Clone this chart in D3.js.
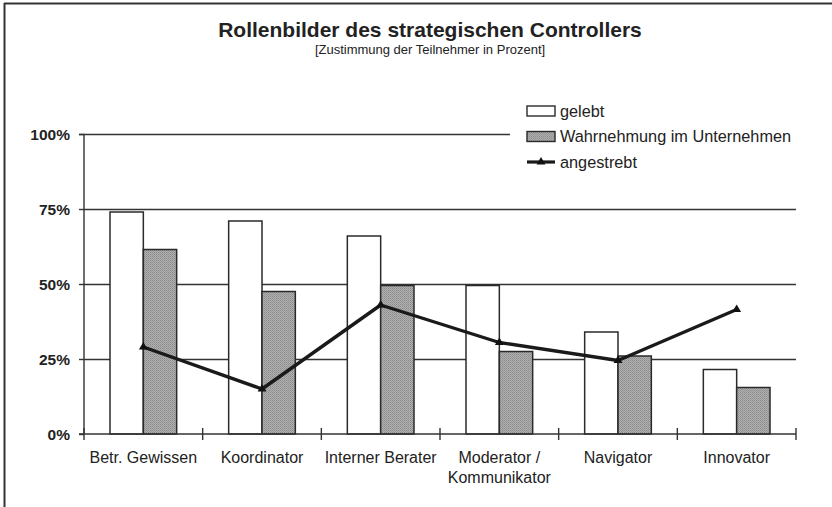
<!DOCTYPE html>
<html>
<head>
<meta charset="utf-8">
<script src="https://cdn.jsdelivr.net/npm/d3@7"></script>
<style>
  body { margin: 0; background: #fff; }
  svg { display: block; font-family: "Liberation Sans", Arial, sans-serif; }
</style>
</head>
<body>
<div id="chart"></div>
<script>
// chart data
const categories = ["Betr. Gewissen", "Koordinator", "Interner Berater", "Moderator /\nKommunikator", "Navigator", "Innovator"];
const gelebt = [74, 71, 66, 49.5, 34, 21.5];
const wahrnehmung = [61.5, 47.5, 49.5, 27.5, 26, 15.5];
const angestrebt = [29, 15, 43, 30.5, 24.5, 41.5];
const yTicks = [0, 25, 50, 75, 100];
const seriesNames = ["gelebt", "Wahrnehmung im Unternehmen", "angestrebt"];

const W = 832, H = 507;
const svg = d3.select("#chart").append("svg")
  .attr("width", W)
  .attr("height", H);

// dotted grey fill like the print
const defs = svg.append("defs");
const pat = defs.append("pattern")
  .attr("id", "grau")
  .attr("width", 2).attr("height", 2)
  .attr("patternUnits", "userSpaceOnUse");
pat.append("rect").attr("width", 2).attr("height", 2).attr("fill", "#b0b0b0");
pat.append("rect").attr("width", 1).attr("height", 1).attr("fill", "#8a8a8a");
pat.append("rect").attr("x", 1).attr("y", 1).attr("width", 1).attr("height", 1).attr("fill", "#989898");

// frame (top and left only)
svg.append("line").attr("x1", 4).attr("x2", W).attr("y1", 3.5).attr("y2", 3.5)
  .attr("stroke", "#333").attr("stroke-width", 2);
svg.append("line").attr("x1", 4.5).attr("x2", 4.5).attr("y1", 3).attr("y2", H)
  .attr("stroke", "#333").attr("stroke-width", 2);

// titles
svg.append("text")
  .attr("x", 430).attr("y", 37)
  .attr("text-anchor", "middle")
  .style("font-size", "21px").style("font-weight", "bold").style("fill", "#222")
  .text("Rollenbilder des strategischen Controllers");
svg.append("text")
  .attr("x", 430).attr("y", 54)
  .attr("text-anchor", "middle")
  .style("font-size", "13px").style("fill", "#222")
  .text("[Zustimmung der Teilnehmer in Prozent]");

// scales
const x = d3.scaleBand().domain(categories).range([84, 796]).paddingInner(0).paddingOuter(0);
const xSub = d3.scaleBand().domain([0, 1]).range([0, x.bandwidth()]).paddingInner(0).paddingOuter(0.78);
const y = d3.scaleLinear().domain([0, 100]).range([434, 134]);

// gridlines
svg.append("g").selectAll("line")
  .data(yTicks.filter(d => d > 0))
  .enter().append("line")
  .attr("x1", 84).attr("x2", 796)
  .attr("y1", d => Math.round(y(d)) + 0.5).attr("y2", d => Math.round(y(d)) + 0.5)
  .attr("stroke", "#333").attr("stroke-width", 1.3);

// bars
const barData = [];
categories.forEach((c, i) => {
  barData.push({ cat: c, s: 0, v: gelebt[i] });
  barData.push({ cat: c, s: 1, v: wahrnehmung[i] });
});
svg.append("g").selectAll("rect")
  .data(barData)
  .enter().append("rect")
  .attr("x", d => x(d.cat) + xSub(d.s))
  .attr("width", xSub.bandwidth())
  .attr("y", d => y(d.v))
  .attr("height", d => y(0) - y(d.v))
  .attr("fill", d => d.s === 0 ? "#fff" : "url(#grau)")
  .attr("stroke", "#2a2a2a").attr("stroke-width", 1.5);

// y axis
const yAxis = d3.axisLeft(y).tickValues(yTicks).tickSize(5).tickPadding(9).tickFormat(d => d + "%");
const gy = svg.append("g").attr("transform", "translate(84,0)").call(yAxis);
gy.select(".domain").attr("stroke", "#333").attr("stroke-width", 1.4).attr("d", "M-5,134.5H0V434H-5");
gy.selectAll(".tick line").attr("stroke", "#333").attr("stroke-width", 1.4);
gy.selectAll(".tick text")
  .style("font-size", "15.5px").style("font-weight", "bold").style("fill", "#222")
  .attr("dy", "0.36em");

// x axis line and crossing ticks at category borders
svg.append("line").attr("x1", 84).attr("x2", 796).attr("y1", y(0)).attr("y2", y(0))
  .attr("stroke", "#333").attr("stroke-width", 1.4);
const borders = categories.map(c => x(c)).concat([x.range()[1]]);
svg.append("g").selectAll("line")
  .data(borders)
  .enter().append("line")
  .attr("x1", d => d).attr("x2", d => d)
  .attr("y1", y(0) - 6).attr("y2", y(0) + 6)
  .attr("stroke", "#333").attr("stroke-width", 1.4);

// category labels
const lbl = svg.append("g").selectAll("text")
  .data(categories)
  .enter().append("text")
  .attr("x", d => x(d) + x.bandwidth() / 2)
  .attr("y", 463)
  .attr("text-anchor", "middle")
  .style("font-size", "16px").style("fill", "#222");
lbl.each(function(d) {
  const parts = d.split("\n");
  d3.select(this).selectAll("tspan")
    .data(parts)
    .enter().append("tspan")
    .attr("x", x(d) + x.bandwidth() / 2)
    .attr("dy", (p, j) => j === 0 ? 0 : 19.5)
    .text(p => p);
});

// line "angestrebt"
const line = d3.line()
  .x((d, i) => x(categories[i]) + x.bandwidth() / 2)
  .y(d => y(d));
svg.append("path")
  .datum(angestrebt)
  .attr("d", line)
  .attr("fill", "none")
  .attr("stroke", "#1a1a1a").attr("stroke-width", 3.4)
  .attr("stroke-linejoin", "round");
const tri = d3.symbol().type(d3.symbolTriangle).size(34);
svg.append("g").selectAll("path")
  .data(angestrebt)
  .enter().append("path")
  .attr("d", tri)
  .attr("transform", (d, i) => "translate(" + (x(categories[i]) + x.bandwidth() / 2) + "," + y(d) + ")")
  .attr("fill", "#111");

// legend, with white box hiding the gridline behind it
const leg = svg.append("g").attr("transform", "translate(527,0)");
leg.append("rect")
  .attr("x", -17).attr("y", 96).attr("width", 295).attr("height", 80)
  .attr("fill", "#fff");
const rowY = [111, 136.5, 162];
seriesNames.forEach((name, i) => {
  const cy = rowY[i];
  if (i < 2) {
    leg.append("rect")
      .attr("x", 0).attr("y", cy - 5).attr("width", 28).attr("height", 10)
      .attr("fill", i === 0 ? "#fff" : "url(#grau)")
      .attr("stroke", "#2a2a2a").attr("stroke-width", 1.4);
  } else {
    leg.append("line").attr("x1", 0).attr("x2", 28).attr("y1", cy).attr("y2", cy)
      .attr("stroke", "#1a1a1a").attr("stroke-width", 3.2);
    leg.append("path").attr("d", tri).attr("transform", "translate(14," + cy + ")").attr("fill", "#111");
  }
  leg.append("text")
    .attr("x", 33).attr("y", cy)
    .attr("dy", "0.36em")
    .style("font-size", "16.3px").style("fill", "#222")
    .text(name);
});
</script>
</body>
</html>
